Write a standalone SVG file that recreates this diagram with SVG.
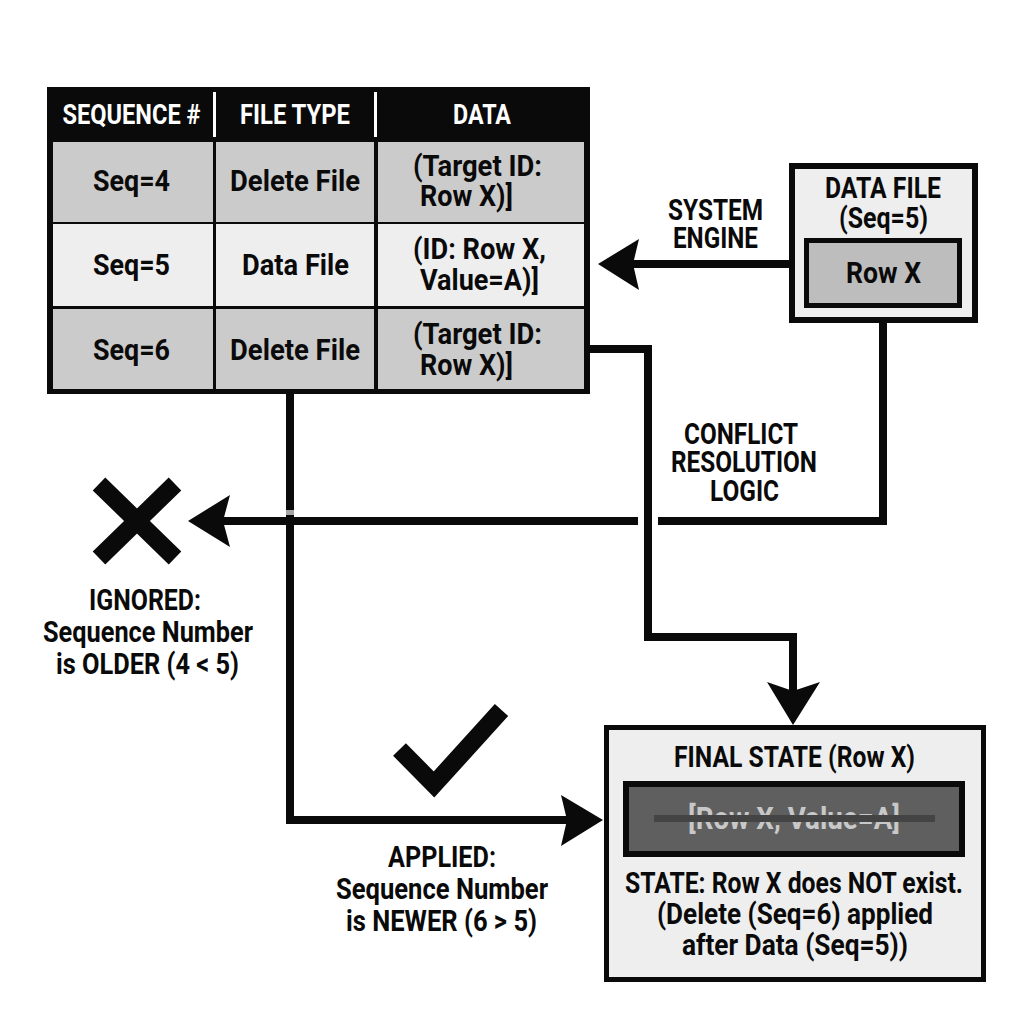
<svg xmlns="http://www.w3.org/2000/svg" width="1024" height="1024" viewBox="0 0 1024 1024">
<style>
text{font-family:Roboto,"Liberation Sans",sans-serif;font-weight:700;fill:#0a0a0a;text-anchor:middle}
.h{fill:#fff;font-size:27px}
.c{font-size:30px}
.l{font-size:29px}
.line{fill:none;stroke:#0a0a0a;stroke-width:8;stroke-linejoin:miter}
.head{fill:#0a0a0a}
.dark{fill:#cbcbcb}
.light{fill:#eeeeee}
</style>
<rect width="1024" height="1024" fill="#fff"/>
<g id="connectors">
<path class="line" d="M588 349H648V637H793V695"/>
<path class="line" d="M290 392V820H570"/>
<path class="line" d="M792 264H630"/>
<path class="line" d="M883 322V521H658"/>
<path class="line" d="M638 521H218"/>
<rect x="286" y="510" width="8" height="5" fill="#a5a5a5"/>
<polygon class="head" points="598,264 639,239 633,264 639,290"/>
<polygon class="head" points="188,521 230,495 223,521 230,547"/>
<polygon class="head" points="603,820 561,795 567,820 561,846"/>
<polygon class="head" points="793,725 767,682 793,691 820,682"/>
</g>
<g id="table">
<rect x="47" y="87" width="543" height="307" fill="#0a0a0a"/>
<rect class="dark" x="53" y="142" width="160" height="80"/>
<rect class="dark" x="216" y="142" width="158" height="80"/>
<rect class="dark" x="378" y="142" width="206" height="80"/>
<rect class="light" x="53" y="224" width="160" height="82"/>
<rect class="light" x="216" y="224" width="158" height="82"/>
<rect class="light" x="378" y="224" width="206" height="82"/>
<rect class="dark" x="53" y="309" width="160" height="80"/>
<rect class="dark" x="216" y="309" width="158" height="80"/>
<rect class="dark" x="378" y="309" width="206" height="80"/>
<rect x="213" y="92" width="3" height="45" fill="#fff"/>
<rect x="374" y="92" width="3" height="45" fill="#fff"/>
<text class="h" x="131.5" y="124" textLength="138" lengthAdjust="spacingAndGlyphs">SEQUENCE #</text>
<text class="h" x="295" y="124" textLength="110" lengthAdjust="spacingAndGlyphs">FILE TYPE</text>
<text class="h" x="482" y="124" textLength="58" lengthAdjust="spacingAndGlyphs">DATA</text>
<text class="c" x="131.5" y="191" textLength="77" lengthAdjust="spacingAndGlyphs">Seq=4</text>
<text class="c" x="295" y="191" textLength="130" lengthAdjust="spacingAndGlyphs">Delete File</text>
<text class="c" x="477.5" y="176" textLength="129" lengthAdjust="spacingAndGlyphs">(Target ID:</text>
<text class="c" x="466.5" y="206" textLength="93" lengthAdjust="spacingAndGlyphs">Row X)]</text>
<text class="c" x="131.5" y="275" textLength="77" lengthAdjust="spacingAndGlyphs">Seq=5</text>
<text class="c" x="295.5" y="275" textLength="107" lengthAdjust="spacingAndGlyphs">Data File</text>
<text class="c" x="479.5" y="259" textLength="133" lengthAdjust="spacingAndGlyphs">(ID: Row X,</text>
<text class="c" x="479.5" y="290" textLength="119" lengthAdjust="spacingAndGlyphs">Value=A)]</text>
<text class="c" x="131.5" y="360" textLength="77" lengthAdjust="spacingAndGlyphs">Seq=6</text>
<text class="c" x="295" y="360" textLength="130" lengthAdjust="spacingAndGlyphs">Delete File</text>
<text class="c" x="477.5" y="344" textLength="129" lengthAdjust="spacingAndGlyphs">(Target ID:</text>
<text class="c" x="466.5" y="375" textLength="93" lengthAdjust="spacingAndGlyphs">Row X)]</text>
</g>
<g id="data-file">
<rect x="792" y="166" width="183" height="154" fill="#eeeeee" stroke="#0a0a0a" stroke-width="6"/>
<text class="l" x="883" y="198" textLength="116" lengthAdjust="spacingAndGlyphs">DATA FILE</text>
<text class="l" x="883.5" y="228" textLength="89" lengthAdjust="spacingAndGlyphs">(Seq=5)</text>
<rect x="806.5" y="240.5" width="153" height="65" fill="#bdbdbd" stroke="#0a0a0a" stroke-width="5"/>
<text class="c" x="883.5" y="283" textLength="75" lengthAdjust="spacingAndGlyphs">Row X</text>
</g>
<g id="system-engine">
<text class="l" x="715.5" y="220" textLength="95" lengthAdjust="spacingAndGlyphs">SYSTEM</text>
<text class="l" x="715.5" y="248" textLength="85" lengthAdjust="spacingAndGlyphs">ENGINE</text>
</g>
<g id="conflict">
<text class="l" x="741" y="444" textLength="114" lengthAdjust="spacingAndGlyphs">CONFLICT</text>
<text class="l" x="744" y="472" textLength="146" lengthAdjust="spacingAndGlyphs">RESOLUTION</text>
<text class="l" x="744.5" y="501" textLength="69" lengthAdjust="spacingAndGlyphs">LOGIC</text>
</g>
<g id="ignored">
<path d="M99 484L175 558M175 484L99 558" fill="none" stroke="#0a0a0a" stroke-width="18"/>
<text class="l" x="145" y="610" textLength="112" lengthAdjust="spacingAndGlyphs">IGNORED:</text>
<text class="l" x="148" y="642" textLength="210" lengthAdjust="spacingAndGlyphs">Sequence Number</text>
<text class="l" x="147.5" y="674" textLength="183" lengthAdjust="spacingAndGlyphs">is OLDER (4 &lt; 5)</text>
</g>
<g id="applied">
<path d="M399.5 749.5L434 784.5L501.5 710" fill="none" stroke="#0a0a0a" stroke-width="18"/>
<text class="l" x="442" y="867" textLength="108" lengthAdjust="spacingAndGlyphs">APPLIED:</text>
<text class="l" x="442" y="899" textLength="212" lengthAdjust="spacingAndGlyphs">Sequence Number</text>
<text class="l" x="441.5" y="931" textLength="191" lengthAdjust="spacingAndGlyphs">is NEWER (6 &gt; 5)</text>
</g>
<g id="final-state">
<rect x="606.5" y="727.5" width="377" height="252" fill="#eeeeee" stroke="#0a0a0a" stroke-width="5"/>
<text class="l" x="794.5" y="767" textLength="241" lengthAdjust="spacingAndGlyphs">FINAL STATE (Row X)</text>
<rect x="626" y="784" width="336" height="70" fill="#5f5f5f" stroke="#0a0a0a" stroke-width="6"/>
<text x="794" y="829" textLength="212" lengthAdjust="spacingAndGlyphs" style="font-size:31px;fill:#c8c8c8">[Row X, Value=A]</text>
<rect x="654" y="815" width="281" height="7" fill="#444"/>
<text class="l" x="794" y="893" textLength="338" lengthAdjust="spacingAndGlyphs">STATE: Row X does NOT exist.</text>
<text class="l" x="795" y="924" textLength="276" lengthAdjust="spacingAndGlyphs">(Delete (Seq=6) applied</text>
<text class="l" x="795" y="955" textLength="226" lengthAdjust="spacingAndGlyphs">after Data (Seq=5))</text>
</g>
</svg>
